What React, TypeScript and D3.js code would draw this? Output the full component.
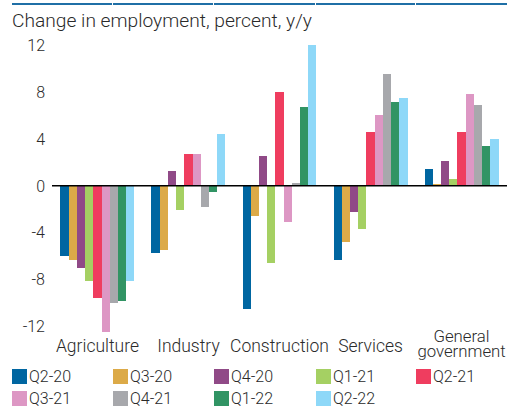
import React from "react";
import * as d3 from "d3";

const categories = ["Agriculture", "Industry", "Construction", "Services", "General government"];
const categoryLines = [["Agriculture"], ["Industry"], ["Construction"], ["Services"], ["General", "government"]];
const seriesNames = ["Q2-20", "Q3-20", "Q4-20", "Q1-21", "Q2-21", "Q3-21", "Q4-21", "Q1-22", "Q2-22"];
const seriesColors = ["#0066a1", "#dcaa48", "#904a87", "#a5d063", "#ef3d5f", "#dd97c4", "#a7a8ac", "#319464", "#8ed8f8"];

// values per series, in category order
const q220 = [-6.0, -5.7, -10.5, -6.3, 1.4];
const q320 = [-6.3, -5.5, -2.6, -4.8, 0.15];
const q420 = [-7.0, 1.3, 2.5, -2.2, 2.1];
const q121 = [-8.1, -2.1, -6.6, -3.7, 0.6];
const q221 = [-9.6, 2.7, 8.0, 4.6, 4.6];
const q321 = [-12.5, 2.7, -3.1, 6.0, 7.8];
const q421 = [-10.0, -1.8, 0.2, 9.5, 6.9];
const q122 = [-9.8, -0.5, 6.7, 7.1, 3.4];
const q222 = [-8.1, 4.4, 12.0, 7.5, 4.0];
const seriesValues = [q220, q320, q420, q121, q221, q321, q421, q122, q222];

const yTicks = [12, 8, 4, 0, -4, -8, -12];
const title = "Change in employment, percent, y/y";

const W = 510;
const H = 408;
const FONT = "Roboto, 'Open Sans', sans-serif";
const TEXT = "#2a2a2a";
const WEIGHT = 350;

export default function App() {
  const x0 = d3.scaleBand<string>().domain(categories).range([52, 507]).paddingInner(0.187).paddingOuter(0.093);
  const x1 = d3.scaleBand<string>().domain(seriesNames).range([0, x0.bandwidth()]).padding(0);
  const y = d3.scaleLinear().domain([-12, 12]).range([326.5, 45]);

  const legendCols = [12, 113, 214, 316, 416];
  const legendRows = [369, 391];

  return (
    <svg width={W} height={H} style={{ position: "absolute", left: 0, top: 0, background: "#fff" }} fontFamily={FONT}>
      <rect x={0} y={0} width={W} height={H} fill="#fff" />
      {legendCols.map((cx, i) => (
        <rect key={"tb" + i} x={cx} y={3} width={(i < 4 ? legendCols[i + 1] : 508) - cx - 1} height={2} fill="#1f6fa6" />
      ))}
      <text x={12} y={27} fontSize={19.2} fontWeight={WEIGHT} fill={TEXT}>{title}</text>
      {yTicks.map((t) => (
        <text key={"yt" + t} x={45} y={y(t)} dy="0.36em" textAnchor="end" fontSize={16} fontWeight={WEIGHT} fill={TEXT}>
          {t}
        </text>
      ))}
      {seriesNames.map((s, si) => (
        <g key={"s" + s} fill={seriesColors[si]}>
          {categories.map((c, ci) => {
            const v = seriesValues[si][ci];
            const yTop = y(Math.max(0, v));
            const yBot = y(Math.min(0, v));
            return (
              <rect
                key={c}
                x={(x0(c) as number) + (x1(s) as number)}
                y={yTop}
                width={x1.bandwidth()}
                height={Math.max(0, yBot - yTop)}
                shapeRendering="crispEdges"
              />
            );
          })}
        </g>
      ))}
      <line x1={52} x2={507} y1={y(0)} y2={y(0)} stroke="#000" strokeWidth={1.3} />
      {categories.map((c, ci) => {
        const cx = (x0(c) as number) + x0.bandwidth() / 2;
        const lines = categoryLines[ci];
        return lines.length === 1 ? (
          <text key={"cl" + c} x={cx} y={352} textAnchor="middle" fontSize={17.5} fontWeight={WEIGHT} fill={TEXT}>
            {lines[0]}
          </text>
        ) : (
          <text key={"cl" + c} x={cx} textAnchor="middle" fontSize={16.8} fontWeight={WEIGHT} fill={TEXT}>
            {lines.map((l, li) => (
              <tspan key={li} x={cx} y={342 + li * 15}>{l}</tspan>
            ))}
          </text>
        );
      })}
      {seriesNames.map((s, si) => {
        const col = si % 5;
        const row = Math.floor(si / 5);
        const lx = legendCols[col];
        const ly = legendRows[row];
        return (
          <g key={"lg" + s}>
            <rect x={lx} y={ly} width={15} height={15} fill={seriesColors[si]} />
            <text x={lx + 17} y={ly + 7.5} dy="0.36em" fontSize={16} fontWeight={WEIGHT} fill={TEXT}>
              {s}
            </text>
          </g>
        );
      })}
    </svg>
  );
}
